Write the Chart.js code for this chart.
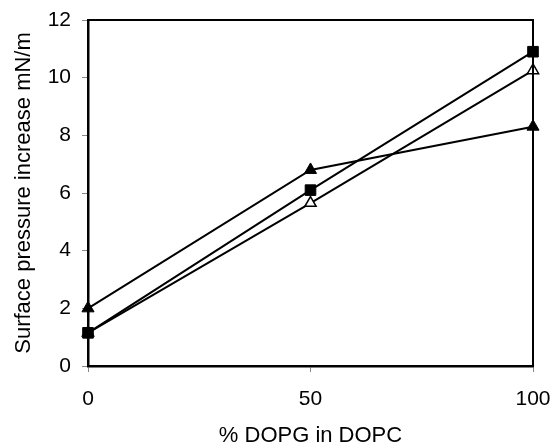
<!DOCTYPE html>
<html lang="en">
<head>
    <meta charset="UTF-8">
    <title>Surface pressure increase</title>
    <style>
        *{box-sizing:border-box}
        body{margin:0;background:#fff}
        #wrap{width:555px;height:445px}
    </style>
    <script src="https://cdn.jsdelivr.net/npm/chart.js@4/dist/chart.umd.min.js"></script>
</head>
<body>
    <div id="wrap"><canvas id="chart"></canvas></div>
    <script>
        // Data
        const dopgPercent = [0, 50, 100];
        const filledTriangles = [2.0, 6.8, 8.3];
        const filledSquares = [1.15, 6.1, 10.9];
        const openTriangles = [1.15, 5.65, 10.25];

        const xTitle = '% DOPG in DOPC';
        const yTitle = 'Surface pressure increase mN/m';

        const toPoints = values => values.map((v, i) => ({ x: dopgPercent[i], y: v }));

        // Frame on top and right of the plot area
        const framePlugin = {
            id: 'frame',
            afterDatasetsDraw(chart) {
                const { ctx, chartArea: a } = chart;
                ctx.save();
                ctx.strokeStyle = '#000';
                ctx.lineWidth = 2;
                ctx.beginPath();
                ctx.moveTo(a.left, a.top);
                ctx.lineTo(a.right, a.top);
                ctx.lineTo(a.right, a.bottom);
                ctx.stroke();
                ctx.restore();
            }
        };

        const family = "'Liberation Sans', Arial, sans-serif";
        const tickFont = { family: family, size: 21 };

        new Chart(document.getElementById('chart'), {
            type: 'line',
            data: {
                datasets: [
                    {
                        data: toPoints(filledTriangles),
                        borderColor: '#000', borderWidth: 2,
                        pointStyle: 'triangle', pointRadius: 7,
                        pointBackgroundColor: '#000', pointBorderColor: '#000', pointBorderWidth: 1
                    },
                    {
                        data: toPoints(filledSquares),
                        borderColor: '#000', borderWidth: 2,
                        pointStyle: 'rect', pointRadius: 7.5,
                        pointBackgroundColor: '#000', pointBorderColor: '#000', pointBorderWidth: 1
                    },
                    {
                        data: toPoints(openTriangles),
                        borderColor: '#000', borderWidth: 2,
                        pointStyle: 'triangle', pointRadius: 6.5,
                        pointBackgroundColor: '#fff', pointBorderColor: '#000', pointBorderWidth: 1.5
                    }
                ]
            },
            options: {
                responsive: true,
                maintainAspectRatio: false,
                animation: false,
                clip: false,
                layout: { padding: { left: 0, right: 22, top: 20, bottom: 0 } },
                plugins: { legend: { display: false }, tooltip: { enabled: false } },
                scales: {
                    x: {
                        type: 'linear', min: 0, max: 100,
                        afterFit: s => { s.height = 79; s.paddingLeft = 0; s.paddingRight = 0; },
                        ticks: { stepSize: 50, color: '#000', font: tickFont, padding: 15 },
                        grid: { drawOnChartArea: false, tickLength: 6, color: '#888' },
                        border: { color: '#000', width: 2.5 },
                        title: { display: true, text: xTitle, color: '#000', font: { family: family, size: 22, lineHeight: 0.8 }, padding: { top: 0, bottom: 0 } }
                    },
                    y: {
                        min: 0, max: 12,
                        afterFit: s => { s.width = 88; s.paddingTop = 0; s.paddingBottom = 0; },
                        ticks: { stepSize: 2, color: '#000', font: tickFont, padding: 11 },
                        grid: { drawOnChartArea: false, tickLength: 6, color: '#888' },
                        border: { color: '#000', width: 2.5 },
                        title: { display: true, text: yTitle, color: '#000', font: { family: family, size: 22 }, padding: { top: 11, bottom: 0 } }
                    }
                }
            },
            plugins: [framePlugin]
        });
    </script>
</body>
</html>
